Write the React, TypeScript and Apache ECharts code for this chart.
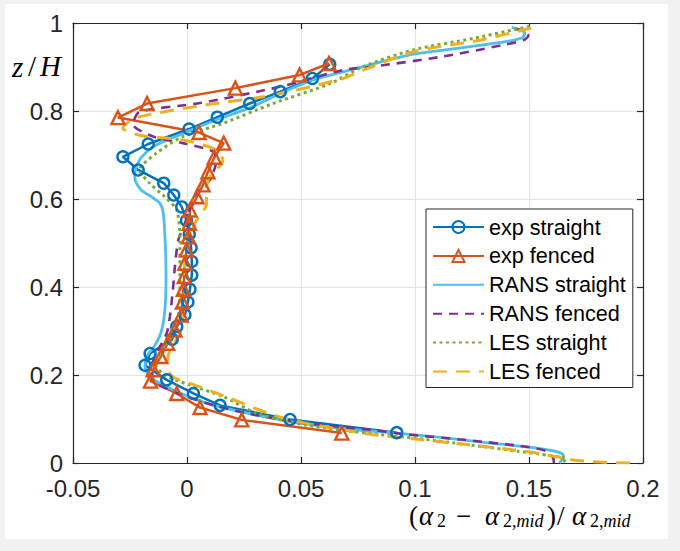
import React, { useEffect, useRef } from "react";
import * as echarts from "echarts";

// ---- axis ticks ----
const xMin = -0.05;
const xMax = 0.2;
const xStep = 0.05;
const yMin = 0;
const yMax = 1;
const yStep = 0.2;
const xTickLabels = ["-0.05", "0", "0.05", "0.1", "0.15", "0.2"];
const yTickLabels = ["0", "0.2", "0.4", "0.6", "0.8", "1"];

const seriesNames = [
  "exp straight",
  "exp fenced",
  "RANS straight",
  "RANS fenced",
  "LES straight",
  "LES fenced",
];

// ---- exp straight ----
const expStraightZ = [0.069, 0.099, 0.131, 0.158, 0.189, 0.222, 0.249, 0.281, 0.31, 0.337, 0.366, 0.395, 0.427, 0.458, 0.489, 0.52, 0.551, 0.582, 0.609, 0.636, 0.666, 0.696, 0.725, 0.759, 0.786, 0.817, 0.844, 0.874, 0.906];
const expStraightX = [0.092, 0.0452, 0.0145, 0.0028, -0.0089, -0.0184, -0.0162, -0.0065, -0.0045, -0.0009, 0.0004, 0.0013, 0.0021, 0.0021, 0.0018, 0.001, -0.0002, -0.0023, -0.0058, -0.0102, -0.0214, -0.0281, -0.017, 0.0009, 0.0133, 0.0275, 0.0409, 0.055, 0.0626];

// ---- exp fenced ----
const expFencedZ = [0.068, 0.098, 0.126, 0.158, 0.186, 0.212, 0.242, 0.272, 0.302, 0.336, 0.366, 0.395, 0.424, 0.454, 0.484, 0.514, 0.545, 0.575, 0.605, 0.632, 0.662, 0.695, 0.727, 0.751, 0.785, 0.817, 0.852, 0.882, 0.908];
const expFencedX = [0.0679, 0.024, 0.0057, -0.0045, -0.016, -0.0148, -0.0115, -0.0085, -0.0053, -0.0025, -0.002, -0.0016, -0.0012, -0.0009, -0.0002, 0.0006, 0.001, 0.0013, 0.0044, 0.007, 0.0092, 0.012, 0.0161, 0.0053, -0.0303, -0.0175, 0.0212, 0.0494, 0.0623];

// ---- RANS straight ----
const ransStraightZ = [0.0, 0.008, 0.018, 0.026, 0.035, 0.047, 0.06, 0.067, 0.079, 0.094, 0.117, 0.136, 0.166, 0.196, 0.219, 0.242, 0.268, 0.302, 0.355, 0.431, 0.507, 0.568, 0.59, 0.603, 0.62, 0.64, 0.655, 0.689, 0.719, 0.749, 0.78, 0.81, 0.845, 0.872, 0.889, 0.901, 0.929, 0.944, 0.958, 0.967, 0.977, 0.986, 0.99];
const ransStraightX = [0.1633, 0.1645, 0.1651, 0.1621, 0.1519, 0.13, 0.108, 0.0934, 0.0671, 0.0452, 0.0232, 0.0086, -0.006, -0.0162, -0.0184, -0.0177, -0.014, -0.0111, -0.0096, -0.0092, -0.0096, -0.0104, -0.0118, -0.015, -0.02, -0.0226, -0.0229, -0.0208, -0.0149, -0.0018, 0.0129, 0.0289, 0.043, 0.056, 0.0684, 0.0773, 0.0993, 0.1212, 0.1402, 0.1472, 0.1482, 0.1453, 0.1424];

// ---- RANS fenced ----
const ransFencedZ = [0.0, 0.011, 0.027, 0.037, 0.052, 0.065, 0.075, 0.09, 0.113, 0.136, 0.162, 0.189, 0.219, 0.257, 0.295, 0.333, 0.393, 0.446, 0.507, 0.545, 0.615, 0.643, 0.689, 0.708, 0.727, 0.742, 0.77, 0.798, 0.818, 0.855, 0.893, 0.901, 0.923, 0.95, 0.961, 0.971, 0.982, 0.986];
const ransFencedX = [0.1609, 0.1606, 0.1577, 0.1489, 0.1226, 0.0963, 0.0817, 0.0525, 0.0261, 0.0086, -0.006, -0.015, -0.0155, -0.0126, -0.0089, -0.0075, -0.0062, -0.0053, -0.0038, -0.0009, 0.0042, 0.01, 0.0129, 0.0114, -0.0018, -0.0149, -0.0237, -0.0208, 0.0057, 0.0407, 0.0684, 0.0817, 0.1113, 0.1387, 0.1475, 0.1497, 0.1475, 0.1439];

// ---- LES straight ----
const lesStraightZ = [0.003, 0.009, 0.017, 0.027, 0.042, 0.056, 0.066, 0.086, 0.113, 0.151, 0.177, 0.2, 0.227, 0.257, 0.295, 0.333, 0.393, 0.446, 0.507, 0.575, 0.605, 0.636, 0.666, 0.704, 0.742, 0.772, 0.817, 0.862, 0.901, 0.939, 0.965, 0.986, 0.992];
const lesStraightX = [0.165, 0.1665, 0.1592, 0.1446, 0.1226, 0.1007, 0.0817, 0.0525, 0.0306, 0.0159, 0.0013, -0.01, -0.014, -0.0104, -0.006, -0.0038, -0.0031, -0.0031, -0.0031, -0.0045, -0.0098, -0.0164, -0.0208, -0.0135, -0.0018, 0.0158, 0.0377, 0.0627, 0.0773, 0.0993, 0.1256, 0.1446, 0.1504];

// ---- LES fenced ----
const lesFencedZ = [0.0, 0.002, 0.007, 0.014, 0.026, 0.042, 0.058, 0.064, 0.09, 0.109, 0.153, 0.181, 0.195, 0.219, 0.257, 0.295, 0.34, 0.393, 0.446, 0.499, 0.545, 0.59, 0.62, 0.645, 0.689, 0.715, 0.734, 0.745, 0.761, 0.782, 0.795, 0.814, 0.836, 0.874, 0.893, 0.935, 0.961, 0.988, 0.99];
const lesFencedX = [0.1943, 0.1811, 0.1694, 0.1621, 0.1489, 0.1226, 0.0934, 0.0817, 0.0525, 0.0379, 0.0159, 0.0013, -0.006, -0.0089, -0.0075, -0.0031, -0.0016, -0.0009, -0.0009, 0.0006, 0.0035, 0.0086, 0.0085, 0.0095, 0.0158, 0.0114, -0.0018, -0.0208, -0.0281, -0.0237, -0.0135, 0.0085, 0.0377, 0.0684, 0.0773, 0.0993, 0.1285, 0.1504, 0.1526];

const colors = ["#0072BD", "#D95319", "#4DBEEE", "#7E2F8E", "#77AC30", "#EDB120"];

const pairs = (xs: number[], zs: number[]) => xs.map((x, i) => [x, zs[i]]);

const AXIS_COLOR = "#262626";
const SANS = "'Liberation Sans', Arial, Helvetica, sans-serif";
const SERIF = "'Liberation Serif', 'DejaVu Serif', serif";
const CLEAR = "rgba(255,255,255,0)";

export default function App() {
  const ref = useRef<HTMLDivElement>(null);

  useEffect(() => {
    if (!ref.current) return;
    const chart = echarts.init(ref.current, undefined, { renderer: "svg" });

    const axisLine = { show: true, onZero: false, lineStyle: { color: AXIS_COLOR, width: 1.2 } };
    const axisTick = { show: true, inside: true, length: 6, lineStyle: { color: AXIS_COLOR, width: 1.2 } };

    const modelLine = (name: string, data: number[][], color: string, type: any, width = 2.6) => ({
      name,
      type: "line",
      data,
      symbol: "none",
      smooth: 0.25,
      lineStyle: { color, width, type, cap: "butt" },
      itemStyle: { color: CLEAR, borderColor: CLEAR, borderWidth: 0 },
      xAxisIndex: 0,
      yAxisIndex: 0,
    });

    const expLine = (name: string, data: number[][], color: string, symbol: string, size: number) => ({
      name,
      type: "line",
      data,
      symbol,
      symbolSize: size,
      smooth: false,
      lineStyle: { color, width: 2.5 },
      itemStyle: { color: CLEAR, borderColor: color, borderWidth: 2.4 },
      xAxisIndex: 0,
      yAxisIndex: 0,
    });

    const xLabelParts = [
      { x: 409, t: "(", sub: false, it: false },
      { x: 419, t: "α", sub: false, it: true },
      { x: 437, t: "2", sub: true, it: false },
      { x: 456, t: "−", sub: false, it: false },
      { x: 485, t: "α", sub: false, it: true },
      { x: 503, t: "{s|2,}{si|mid}", sub: true, it: false },
      { x: 547, t: ")", sub: false, it: false },
      { x: 557, t: "/", sub: false, it: false },
      { x: 572, t: "α", sub: false, it: true },
      { x: 590, t: "{s|2,}{si|mid}", sub: true, it: false },
    ];

    const graphics: any[] = [
      { type: "text", left: 12, top: 52, style: { text: "z", font: `italic 29px ${SERIF}`, fill: "#000" } },
      { type: "text", left: 28, top: 51, style: { text: "/", font: `29px ${SERIF}`, fill: "#000" } },
      { type: "text", left: 40, top: 51, style: { text: "H", font: `italic 29px ${SERIF}`, fill: "#000" } },
      ...xLabelParts.map((p) => ({
        type: "text",
        left: p.x,
        top: p.sub ? 512 : 502,
        style: {
          text: p.t,
          font: `${p.it ? "italic " : ""}${p.sub ? 18 : 27}px ${SERIF}`,
          fill: "#000",
          rich: {
            s: { fontSize: 18, fontFamily: SERIF, fill: "#000" },
            si: { fontSize: 18, fontFamily: SERIF, fontStyle: "italic", fill: "#000" },
          },
        },
      })),
    ];

    chart.setOption({
      animation: false,
      backgroundColor: "transparent",
      grid: { left: 73, top: 23, width: 570, height: 440, containLabel: false },
      xAxis: [
        {
          type: "value",
          position: "bottom",
          min: xMin,
          max: xMax,
          interval: xStep,
          axisLine,
          axisTick,
          axisLabel: {
            formatter: (v: number) => xTickLabels[Math.round((v - xMin) / xStep)],
            fontSize: 24,
            lineHeight: 18,
            fontFamily: SANS,
            color: AXIS_COLOR,
            margin: 16,
          },
          splitLine: { show: true, lineStyle: { color: "#e3e3e3", width: 1 } },
        },
        {
          type: "value",
          position: "top",
          min: xMin,
          max: xMax,
          interval: xStep,
          axisLine,
          axisTick,
          axisLabel: { show: false },
          splitLine: { show: false },
        },
      ],
      yAxis: [
        {
          type: "value",
          position: "left",
          min: yMin,
          max: yMax,
          interval: yStep,
          axisLine,
          axisTick,
          axisLabel: {
            formatter: (v: number) => yTickLabels[Math.round((v - yMin) / yStep)],
            fontSize: 24,
            lineHeight: 18,
            fontFamily: SANS,
            color: AXIS_COLOR,
            margin: 10,
          },
          splitLine: { show: true, lineStyle: { color: "#e3e3e3", width: 1 } },
        },
        {
          type: "value",
          position: "right",
          min: yMin,
          max: yMax,
          interval: yStep,
          axisLine,
          axisTick,
          axisLabel: { show: false },
          splitLine: { show: false },
        },
      ],
      legend: {
        orient: "vertical",
        left: 426,
        top: 209,
        padding: [7, 7, 5, 6],
        itemGap: 6.9,
        itemWidth: 51,
        itemHeight: 15,
        backgroundColor: "#fff",
        borderColor: AXIS_COLOR,
        borderWidth: 1,
        borderRadius: 0,
        selectedMode: false,
        textStyle: { fontSize: 21.6, fontFamily: SANS, color: "#000", lineHeight: 22 },
        data: seriesNames,
      },
      graphic: graphics,
      series: [
        expLine(seriesNames[0], pairs(expStraightX, expStraightZ), colors[0], "circle", 11),
        expLine(seriesNames[1], pairs(expFencedX, expFencedZ), colors[1], "triangle", 13),
        modelLine(seriesNames[2], pairs(ransStraightX, ransStraightZ), colors[2], "solid", 2.8),
        modelLine(seriesNames[3], pairs(ransFencedX, ransFencedZ), colors[3], [9, 7]),
        modelLine(seriesNames[4], pairs(lesStraightX, lesStraightZ), colors[4], [3, 3.5], 3),
        modelLine(seriesNames[5], pairs(lesFencedX, lesFencedZ), colors[5], [14, 9], 3),
      ],
    });

    return () => chart.dispose();
  }, []);

  return (
    <div style={{ position: "absolute", left: 0, top: 0, width: 680, height: 551, background: "#f1f1f1" }}>
      <div style={{ position: "absolute", left: 5, top: 4, width: 663, height: 535, background: "#fff" }} />
      <div ref={ref} style={{ position: "absolute", left: 0, top: 0, width: 680, height: 551 }} />
    </div>
  );
}
